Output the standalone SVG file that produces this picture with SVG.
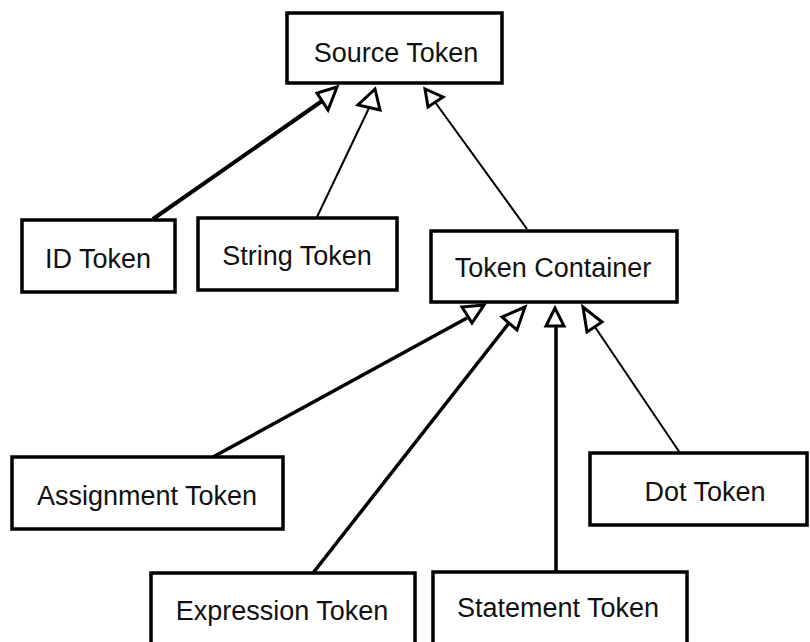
<svg xmlns="http://www.w3.org/2000/svg" width="810" height="642" viewBox="0 0 810 642">
<style>
.box{fill:#fff;stroke:#000;stroke-width:3.5}
.lbl{font-family:"Liberation Sans",Arial,sans-serif;font-size:27px;fill:#111;text-anchor:middle}
.ln{stroke:#000;fill:none}
.head{fill:#fff;stroke:#000;stroke-width:3;stroke-linejoin:miter}
</style>
<rect width="810" height="642" fill="#fff"/>
<g id="connectors">
<line class="ln" x1="153" y1="219" x2="322" y2="101" stroke-width="4"/>
<polygon class="head" points="337,87 317,93 328,110"/>
<line class="ln" x1="317" y1="217" x2="369" y2="108" stroke-width="2"/>
<polygon class="head" points="375,89 358,105 380,110"/>
<line class="ln" x1="527" y1="229" x2="435" y2="102" stroke-width="2"/>
<polygon class="head" points="425,89 428,107 443,97"/>
<line class="ln" x1="213" y1="457" x2="467" y2="318" stroke-width="3.5"/>
<polygon class="head" points="462,307 484,305 472,323"/>
<line class="ln" x1="313" y1="573" x2="509" y2="323" stroke-width="3.5"/>
<polygon class="head" points="525,307 502,317 517,330"/>
<line class="ln" x1="556" y1="326" x2="556" y2="572" stroke-width="3.5"/>
<polygon class="head" points="555,308 546,326 564,326"/>
<line class="ln" x1="595" y1="327" x2="680" y2="453" stroke-width="2"/>
<polygon class="head" points="583,307 587,332 602,322"/>
</g>
<g id="source-token"><rect class="box" x="287" y="13" width="215" height="70"/><text class="lbl" x="396" y="62">Source Token</text></g>
<g id="id-token"><rect class="box" x="22" y="220" width="153" height="72"/><text class="lbl" x="98" y="268">ID Token</text></g>
<g id="string-token"><rect class="box" x="198" y="218" width="199" height="72"/><text class="lbl" x="297" y="265">String Token</text></g>
<g id="token-container"><rect class="box" x="431" y="231" width="246" height="71"/><text class="lbl" x="553" y="277">Token Container</text></g>
<g id="assignment-token"><rect class="box" x="12" y="457" width="271" height="72"/><text class="lbl" x="147" y="505">Assignment Token</text></g>
<g id="dot-token"><rect class="box" x="590" y="453" width="217" height="72"/><text class="lbl" x="705" y="501">Dot Token</text></g>
<g id="expression-token"><rect class="box" x="151" y="573" width="264" height="80"/><text class="lbl" x="282" y="620">Expression Token</text></g>
<g id="statement-token"><rect class="box" x="433" y="572" width="254" height="80"/><text class="lbl" x="558" y="617">Statement Token</text></g>
</svg>
